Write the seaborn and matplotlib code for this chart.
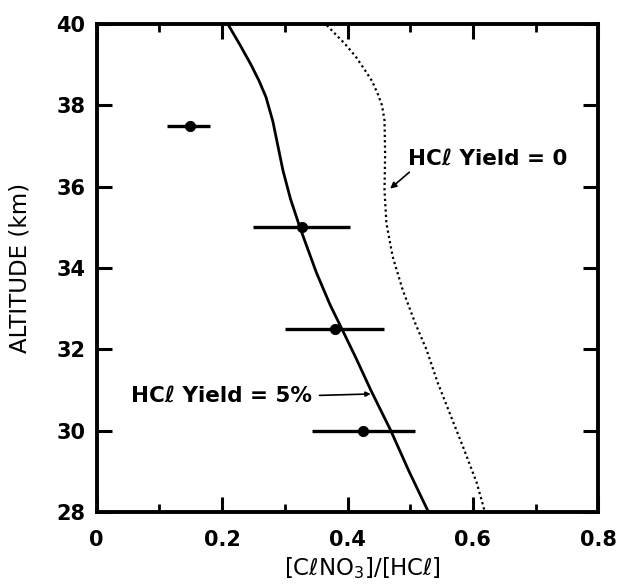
import numpy as np
import pandas as pd
import matplotlib
matplotlib.use("Agg")
import matplotlib.pyplot as plt
import seaborn as sns

# measured ratio [ClNO3]/[HCl] with error bars
obs_alt = [37.5, 35.0, 32.5, 30.0]
obs_ratio = [0.148, 0.327, 0.380, 0.424]
obs_lo = [0.112, 0.249, 0.300, 0.343]
obs_hi = [0.180, 0.404, 0.458, 0.507]

# model, HCl yield = 5%
alt_5 = [28.0, 29.0, 30.0, 31.0, 31.8, 32.5, 33.1, 33.9, 35.0, 35.7, 36.4, 37.0, 37.6, 38.2, 38.6, 39.0, 39.5, 40.0]
ratio_5 = [0.529, 0.498, 0.469, 0.437, 0.413, 0.391, 0.372, 0.350, 0.324, 0.309, 0.297, 0.289, 0.281, 0.270, 0.259, 0.246, 0.228, 0.209]

# model, HCl yield = 0
alt_0 = [28.06, 28.72, 29.53, 30.35, 31.17, 31.99, 32.64, 33.46, 34.28, 35.1, 35.91, 36.81, 37.63, 38.0, 38.29, 38.6, 38.86, 39.2, 39.51, 40.0]
ratio_0 = [0.618, 0.606, 0.586, 0.565, 0.544, 0.526, 0.508, 0.488, 0.472, 0.462, 0.459, 0.460, 0.459, 0.455, 0.448, 0.439, 0.428, 0.413, 0.396, 0.365]

x_ticks = [0, 0.2, 0.4, 0.6, 0.8]
x_tick_labels = ["0", "0.2", "0.4", "0.6", "0.8"]
x_minor = [0.1, 0.3, 0.5, 0.7]
y_ticks = [28, 30, 32, 34, 36, 38, 40]

sns.set_theme(style="ticks")
plt.rcParams["font.family"] = ["DejaVu Sans"]

fig = plt.figure(figsize=(6.2, 5.85), dpi=100)
ax = fig.add_axes([0.156, 0.125, 0.809, 0.834])

df5 = pd.DataFrame({"alt": alt_5, "ratio": ratio_5})
df0 = pd.DataFrame({"alt": alt_0, "ratio": ratio_0})
sns.lineplot(data=df5, x="ratio", y="alt", sort=False, orient="y", color="black", lw=2.0, ax=ax)
sns.lineplot(data=df0, x="ratio", y="alt", sort=False, orient="y", color="black", lw=1.6,
             linestyle=(0, (1, 1.4)), ax=ax)

ax.hlines(obs_alt, obs_lo, obs_hi, color="black", lw=2.4)
sns.scatterplot(x=obs_ratio, y=obs_alt, color="black", s=55, edgecolor="black", zorder=5, ax=ax)

# labels for the two model curves
ax.annotate("HCℓ Yield = 0", xy=(0.468, 35.95), xytext=(0.497, 36.68),
            fontsize=15.5, fontweight="bold", va="center", ha="left", color="black",
            arrowprops=dict(arrowstyle="-|>", color="black", lw=1.2,
                            mutation_scale=9, shrinkA=0, shrinkB=0,
                            relpos=(0.03, 0.0)))
ax.annotate("HCℓ Yield = 5%", xy=(0.437, 30.9), xytext=(0.055, 30.86),
            fontsize=15.5, fontweight="bold", va="center", ha="left", color="black",
            arrowprops=dict(arrowstyle="-|>", color="black", lw=1.2,
                            mutation_scale=7, shrinkA=3, shrinkB=0,
                            relpos=(1.0, 0.5)))

ax.set_xlim(0, 0.8)
ax.set_ylim(28, 40)
ax.set_xticks(x_ticks)
ax.set_xticklabels(x_tick_labels)
ax.set_xticks(x_minor, minor=True)
ax.set_yticks(y_ticks)
for lab in ax.get_xticklabels() + ax.get_yticklabels():
    lab.set_fontweight("bold")

ax.tick_params(axis="both", which="major", direction="in", top=True, right=True,
               length=11, width=2.2, labelsize=15, color="black", labelcolor="black")
ax.tick_params(axis="x", which="major", pad=13)
ax.tick_params(axis="y", which="major", pad=8)
ax.tick_params(axis="x", which="minor", direction="in", top=True, bottom=True,
               length=6, width=2.0, color="black")

for sp in ax.spines.values():
    sp.set_visible(True)
    sp.set_linewidth(2.8)
    sp.set_color("black")

ax.set_xlabel("[CℓNO$_3$]/[HCℓ]", fontsize=16.5, color="black")
ax.set_ylabel("ALTITUDE (km)", fontsize=16.5, color="black")
ax.xaxis.set_label_coords(0.529, -0.088)
ax.yaxis.set_label_coords(-0.130, 0.5)
ax.set_facecolor("white")
fig.patch.set_facecolor("white")

fig.savefig("out.png", dpi=100)
